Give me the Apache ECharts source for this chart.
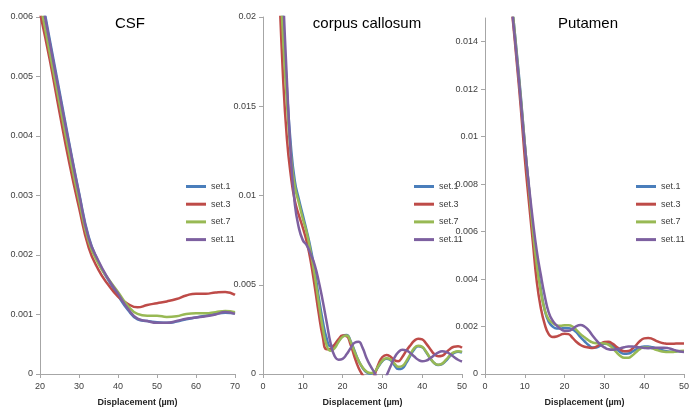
<!DOCTYPE html>
<html>
<head>
<meta charset="utf-8">
<script src="https://cdn.jsdelivr.net/npm/echarts@6/dist/echarts.min.js"></script>
<style>
  html, body { margin: 0; padding: 0; background: #ffffff; }
  #chart { width: 691px; height: 407px; }
</style>
</head>
<body>
<div id="chart"></div>
<script>
// Displacement grids (µm) for each tissue
const csfX = [20, 22.5, 25, 27.5, 30, 32.5, 35, 37.5, 40, 42.5, 45, 47.5, 50, 52.5, 55, 57.5, 60, 62.5, 65, 67.5, 70];
const ccX = [4, 5, 6, 7, 8, 9, 10, 11, 12, 13, 14, 15, 16, 17, 18, 19, 20, 21, 22, 23, 24, 25, 26, 27, 28, 29,
  30, 31, 32, 33, 34, 35, 36, 37, 38, 39, 40, 41, 42, 43, 44, 45, 46, 47, 48, 49, 50];
const putX = [6, 7, 8, 9, 10, 11, 12, 13, 14, 15, 16, 17, 18, 19, 20, 21, 22, 23, 24, 25, 26, 27, 28, 29,
  30, 31, 32, 33, 34, 35, 36, 37, 38, 39, 40, 41, 42, 43, 44, 45, 46, 47, 48, 49, 50];

const setNames = ['set.1', 'set.3', 'set.7', 'set.11'];
const setColors = ['#4A7EBB', '#BE4B48', '#98B954', '#7D60A0'];

// CSF
const csfSet1 = [0.00650, 0.00562, 0.00475, 0.00388, 0.00305, 0.00230, 0.00188, 0.00158, 0.00132, 0.00108, 0.00092,
  0.00089, 0.00087, 0.00086, 0.00088, 0.00092, 0.00095, 0.00098, 0.00101, 0.00103, 0.00102];
const csfSet3 = [0.00607, 0.00528, 0.00440, 0.00355, 0.00280, 0.00212, 0.00175, 0.00150, 0.00130, 0.00118, 0.00112,
  0.00116, 0.00119, 0.00122, 0.00126, 0.00132, 0.00135, 0.00135, 0.00137, 0.00138, 0.00133];
const csfSet7 = [0.00625, 0.00540, 0.00455, 0.00370, 0.00292, 0.00222, 0.00185, 0.00160, 0.00138, 0.00115, 0.00101,
  0.00098, 0.00098, 0.00096, 0.00097, 0.00101, 0.00102, 0.00102, 0.00104, 0.00106, 0.00104];
const csfSet11 = [0.00645, 0.00557, 0.00470, 0.00385, 0.00303, 0.00228, 0.00190, 0.00160, 0.00135, 0.00110, 0.00093,
  0.00089, 0.00086, 0.00086, 0.00089, 0.00093, 0.00095, 0.00097, 0.00100, 0.00104, 0.00101];

// corpus callosum
const ccSet1 = [0.0245, 0.0200, 0.0160, 0.0128, 0.0108, 0.0098, 0.0089, 0.0080, 0.0070, 0.0058, 0.0043, 0.0030, 0.0020,
  0.00155, 0.00160, 0.00185, 0.00212, 0.00218, 0.00185, 0.00130, 0.00075, 0.00035, 0.00010, 0.00002, 0.00010, 0.00042,
  0.00072, 0.00086, 0.00078, 0.00050, 0.00028, 0.00032, 0.00062, 0.00102, 0.00138, 0.00156, 0.00150, 0.00122, 0.00088,
  0.00062, 0.00050, 0.00055, 0.00075, 0.00100, 0.00118, 0.00125, 0.00120];
const ccSet3 = [0.0222, 0.0168, 0.0132, 0.0111, 0.0097, 0.0089, 0.0082, 0.0074, 0.0063, 0.0049, 0.0034, 0.0021, 0.00138,
  0.00140, 0.00165, 0.00195, 0.00215, 0.00212, 0.00165, 0.00095, 0.00035, -0.00005, -0.00035, -0.00040, -0.00005, 0.00055,
  0.00095, 0.00107, 0.00098, 0.00078, 0.00072, 0.00095, 0.00130, 0.00160, 0.00186, 0.00198, 0.00194, 0.00170, 0.00140,
  0.00112, 0.00099, 0.00102, 0.00120, 0.00140, 0.00153, 0.00155, 0.00147];
const ccSet7 = [0.0235, 0.0190, 0.0152, 0.0123, 0.0105, 0.0096, 0.0087, 0.0079, 0.0068, 0.0055, 0.0040, 0.0026, 0.00160,
  0.00130, 0.00145, 0.00180, 0.00208, 0.00215, 0.00182, 0.00125, 0.00075, 0.00038, 0.00014, 0.00005, 0.00012, 0.00045,
  0.00075, 0.00088, 0.00082, 0.00060, 0.00040, 0.00045, 0.00072, 0.00110, 0.00145, 0.00158, 0.00152, 0.00125, 0.00090,
  0.00062, 0.00052, 0.00058, 0.00080, 0.00105, 0.00122, 0.00128, 0.00125];
const ccSet11 = [0.0270, 0.0215, 0.0165, 0.0122, 0.0095, 0.0082, 0.0075, 0.0072, 0.0067, 0.0061, 0.0052, 0.0041, 0.0029,
  0.0017, 0.0010, 0.00080, 0.00085, 0.00110, 0.00145, 0.00175, 0.00180, 0.00148, 0.00090, 0.00045, 0.00008, -0.00035,
  -0.00050, -0.00010, 0.00040, 0.00090, 0.00122, 0.00136, 0.00132, 0.00118, 0.00098, 0.00080, 0.00071, 0.00075, 0.00088,
  0.00105, 0.00120, 0.00127, 0.00124, 0.00112, 0.00095, 0.00080, 0.00070];

// Putamen
const putSet1 = [0.0169, 0.0152, 0.0135, 0.0117, 0.0097, 0.0079, 0.0062, 0.0048, 0.0036, 0.0027, 0.0022, 0.00200,
  0.00192, 0.00192, 0.00194, 0.00193, 0.00188, 0.00175, 0.00155, 0.00138, 0.00122, 0.00112, 0.00112, 0.00120,
  0.00127, 0.00126, 0.00118, 0.00105, 0.00092, 0.00085, 0.00086, 0.00094, 0.00104, 0.00112, 0.00116, 0.00116,
  0.00113, 0.00108, 0.00103, 0.00098, 0.00095, 0.00094, 0.00095, 0.00096, 0.00096];
const putSet3 = [0.0166, 0.0149, 0.0131, 0.0112, 0.0091, 0.0073, 0.0056, 0.0039, 0.0028, 0.0021, 0.00168, 0.00156,
  0.00158, 0.00165, 0.00170, 0.00168, 0.00152, 0.00135, 0.00122, 0.00115, 0.00112, 0.00110, 0.00115, 0.00126,
  0.00135, 0.00136, 0.00128, 0.00115, 0.00103, 0.00096, 0.00097, 0.00106, 0.00122, 0.00140, 0.00150, 0.00152,
  0.00148, 0.00140, 0.00133, 0.00129, 0.00127, 0.00127, 0.00128, 0.00128, 0.00128];
const putSet7 = [0.0168, 0.0152, 0.0134, 0.0116, 0.0097, 0.0079, 0.0061, 0.0046, 0.0035, 0.0027, 0.0023, 0.00215,
  0.00205, 0.00203, 0.00205, 0.00205, 0.00200, 0.00185, 0.00168, 0.00155, 0.00142, 0.00133, 0.00130, 0.00130,
  0.00129, 0.00124, 0.00110, 0.00092, 0.00076, 0.00068, 0.00068, 0.00078, 0.00093, 0.00106, 0.00112, 0.00112,
  0.00108, 0.00102, 0.00097, 0.00094, 0.00093, 0.00093, 0.00095, 0.00097, 0.00098];
const putSet11 = [0.0166, 0.0150, 0.0133, 0.0115, 0.0096, 0.0080, 0.0065, 0.0052, 0.0042, 0.0033, 0.0026, 0.00225,
  0.00205, 0.00190, 0.00182, 0.00182, 0.00190, 0.00202, 0.00206, 0.00200, 0.00185, 0.00162, 0.00142, 0.00124,
  0.00112, 0.00104, 0.00102, 0.00104, 0.00108, 0.00113, 0.00116, 0.00116, 0.00114, 0.00112, 0.00110, 0.00109,
  0.00110, 0.00111, 0.00111, 0.00111, 0.00109, 0.00104, 0.00099, 0.00095, 0.00093];

// Tick values
const csfXTicks = [20, 30, 40, 50, 60, 70];
const csfYTicks = [0, 0.001, 0.002, 0.003, 0.004, 0.005, 0.006];
const ccXTicks = [0, 10, 20, 30, 40, 50];
const ccYTicks = [0, 0.005, 0.01, 0.015, 0.02];
const putXTicks = [0, 10, 20, 30, 40, 50];
const putYTicks = [0, 0.002, 0.004, 0.006, 0.008, 0.01, 0.012, 0.014];

const panels = [
  { title: 'CSF', titleX: 130, grid: { left: 40, top: 17, width: 195, height: 357 },
    xMin: 20, xMax: 70, yMax: 0.006, xTicks: csfXTicks, yTicks: csfYTicks, legendX: 181,
    x: csfX, sets: [csfSet1, csfSet3, csfSet7, csfSet11] },
  { title: 'corpus callosum', titleX: 367, grid: { left: 263, top: 17, width: 199, height: 357 },
    xMin: 0, xMax: 50, yMax: 0.02, xTicks: ccXTicks, yTicks: ccYTicks, legendX: 409,
    x: ccX, sets: [ccSet1, ccSet3, ccSet7, ccSet11] },
  { title: 'Putamen', titleX: 588, grid: { left: 485, top: 18, width: 199, height: 356 },
    xMin: 0, xMax: 50, yMax: 0.015, xTicks: putXTicks, yTicks: putYTicks, legendX: 631,
    x: putX, sets: [putSet1, putSet3, putSet7, putSet11] }
];

const labelFont = 'Liberation Sans, Arial, sans-serif';
const fmt = v => String(+Number(v).toFixed(6));

const option = {
  animation: false,
  backgroundColor: '#ffffff',
  title: [], grid: [], xAxis: [], yAxis: [], legend: [], series: []
};

panels.forEach((p, i) => {
  option.title.push({
    text: p.title, left: p.titleX, top: 16, textAlign: 'center', padding: 0,
    textStyle: { fontFamily: labelFont, fontSize: 15, fontWeight: 'normal', color: '#000000' }
  });
  option.grid.push(Object.assign({ outerBoundsMode: 'none', containLabel: false }, p.grid));
  option.xAxis.push({
    type: 'value', gridIndex: i, min: p.xMin, max: p.xMax,
    name: 'Displacement (µm)', nameLocation: 'middle', nameGap: 24,
    nameTextStyle: { fontFamily: labelFont, fontSize: 9, fontWeight: 'bold', color: '#262626' },
    axisLine: { show: true, lineStyle: { color: '#A6A6A6', width: 1 } },
    axisTick: { show: true, length: 4, customValues: p.xTicks, lineStyle: { color: '#A6A6A6' } },
    axisLabel: { customValues: p.xTicks, formatter: fmt, margin: 8, fontFamily: labelFont, fontSize: 9, color: '#404040' },
    splitLine: { show: false }
  });
  option.yAxis.push({
    type: 'value', gridIndex: i, min: 0, max: p.yMax,
    axisLine: { show: true, lineStyle: { color: '#A6A6A6', width: 1 } },
    axisTick: { show: true, length: 4, customValues: p.yTicks, lineStyle: { color: '#A6A6A6' } },
    axisLabel: { customValues: p.yTicks, formatter: fmt, margin: 7, fontFamily: labelFont, fontSize: 9, color: '#404040' },
    splitLine: { show: false }
  });
  option.legend.push({
    data: setNames, orient: 'vertical', left: p.legendX, top: 177,
    icon: 'rect', itemWidth: 20, itemHeight: 3, itemGap: 8.7,
    textStyle: { fontFamily: labelFont, fontSize: 9, color: '#404040' },
    selectedMode: false
  });
  p.sets.forEach((vals, k) => {
    option.series.push({
      type: 'line', name: setNames[k], xAxisIndex: i, yAxisIndex: i,
      data: p.x.map((xv, j) => [xv, vals[j]]),
      smooth: true, showSymbol: false, symbol: 'none', clip: true,
      lineStyle: { color: setColors[k], width: 2.5 },
      itemStyle: { color: setColors[k] }
    });
  });
});

const chart = echarts.init(document.getElementById('chart'), null, { renderer: 'canvas' });
chart.setOption(option);
</script>
</body>
</html>
